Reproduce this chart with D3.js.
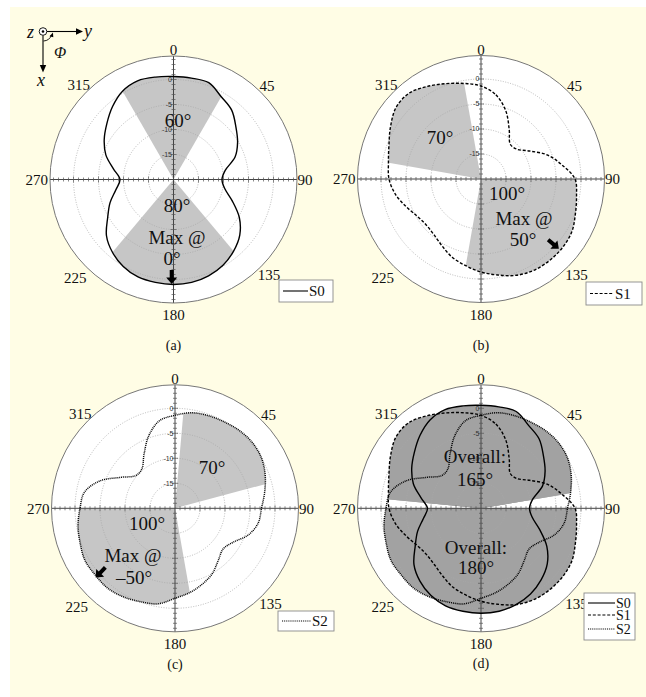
<!DOCTYPE html>
<html>
<head>
<meta charset="utf-8">
<script src="https://cdn.jsdelivr.net/npm/d3@7"></script>
<style>
html, body { margin: 0; padding: 0; background: #fff; }
svg { display: block; }
</style>
</head>
<body>
<svg id="fig" width="646" height="697"></svg>
<script>
// ---- measured radiation patterns (dB), azimuth in degrees ----
const azimuth = [0,10,20,30,40,50,60,70,80,90,100,110,120,130,140,150,160,170,
                 180,190,200,210,220,230,240,250,260,270,280,290,300,310,320,330,340,350];
const s0 = [0.6,0.6,0.6,-0.9,-1.9,-3.7,-5.2,-6.9,-9.5,-10.3,-9.6,-7.5,-4.8,-2.7,-1.3,-0.2,0.5,0.9,
            1.0,0.9,0.75,0.1,-1.0,-2.5,-4.8,-6.5,-8.3,-9.3,-7.8,-5.6,-4.0,-2.6,-1.0,0.4,1.0,0.8];
const s1 = [-1.4,-2.9,-5.5,-8.7,-10.9,-10.7,-8.8,-5.9,-3.6,-1.2,-0.6,0.1,1.0,1.3,1.3,1.1,0.5,-0.5,
            -1.4,-2.4,-3.3,-4.5,-5.4,-5.7,-5.2,-4.0,-2.6,-1.6,-1.2,-0.4,0.9,2.2,2.4,1.4,0.3,-0.6];
const s2 = [-1.4,-0.6,-0.3,-0.1,0.2,0.3,0.0,-0.8,-1.8,-2.7,-3.1,-4.4,-6.5,-7.4,-6.5,-5.0,-3.9,-2.9,
            -2.0,-0.6,-0.1,0.5,0.9,0.8,0.8,0.2,-0.3,-1.0,-1.6,-4.0,-7.6,-9.8,-9.7,-7.6,-4.6,-2.2];

const seriesNames = ["S0", "S1", "S2"];
const angleTicks = [0, 45, 90, 135, 180, 225, 270, 315];
const ringTicks = [0, -5, -10, -15];
const dbMin = -20;

// beams: [centre azimuth, beamwidth]
const beamsA = [[0, 60], [180, 80]];
const beamsB = [[315, 70], [140, 100]];
const beamsC = [[40, 70], [220, 100]];
const beamsD = [[358, 165], [180, 180]];
const maxDirA = "0°";
const maxDirB = "50°";
const maxDirC = "–50°";

// ---- drawing ----
const svg = d3.select("#fig");
const serif = "'Liberation Serif', 'Times New Roman', serif";
const sans = "'Liberation Sans', Arial, sans-serif";

svg.append("rect").attr("width", 646).attr("height", 697).attr("fill", "#fff");
svg.append("rect").attr("x", 10).attr("y", 7).attr("width", 636).attr("height", 690).attr("fill", "#fffde5");

const frameR = 123.5;
const rScale = d3.scaleLinear().domain([dbMin, 0]).range([0, 100]);
const rad = d => d * Math.PI / 180;

// extra spacing of each azimuth label outside the frame
const labelGap = { 0: 1, 45: 0, 90: 0.5, 135: 0, 180: 7, 225: 4, 270: 2, 315: -1 };

const seriesData = { S0: s0, S1: s1, S2: s2 };
const lineStyle = {
  S0: { dash: null, width: 1.4 },
  S1: { dash: "3,1.8", width: 1.4 },
  S2: { dash: "1,0.9", width: 1.5 }
};

const radialLine = d3.lineRadial()
  .angle(d => rad(d[0]))
  .radius(d => rScale(d[1]))
  .curve(d3.curveCatmullRomClosed.alpha(0.5));

const sectorArc = d3.arc().innerRadius(0).outerRadius(frameR + 2);

function points(name) {
  return azimuth.map((a, i) => [a, seriesData[name][i]]);
}

let clipId = 0;

function blockArrow(g, x, y, rotDeg) {
  g.append("path")
    .attr("d", "M-7,-2 L0.5,-2 L0.5,-5.5 L7,0 L0.5,5.5 L0.5,2 L-7,2 Z")
    .attr("transform", `translate(${x},${y}) rotate(${rotDeg})`)
    .attr("fill", "#000");
}

function drawPanel(p) {
  const g = svg.append("g").attr("transform", `translate(${p.cx},${p.cy})`);

  // plot disc
  g.append("circle").attr("r", frameR).attr("fill", "#fff");

  // shaded beam sectors, bounded by the pattern(s)
  p.beams.forEach(([c, w]) => {
    const id = "sec" + (clipId++);
    g.append("clipPath").attr("id", id)
      .append("path")
      .attr("d", sectorArc({ startAngle: rad(c - w / 2), endAngle: rad(c + w / 2) }));
    p.series.forEach(name => {
      g.append("path")
        .attr("d", radialLine(points(name)))
        .attr("fill", p.fill)
        .attr("clip-path", `url(#${id})`);
    });
  });

  // dotted dB rings
  g.selectAll(null).data(ringTicks).enter().append("circle")
    .attr("r", d => rScale(d))
    .attr("fill", "none")
    .attr("stroke", "#a8a8a8")
    .attr("stroke-width", 0.8)
    .attr("stroke-dasharray", "1,1.5");

  // axes through the centre with ticks
  g.append("line").attr("x1", -frameR).attr("x2", frameR).attr("stroke", "#444").attr("stroke-width", 1);
  g.append("line").attr("y1", -frameR).attr("y2", frameR).attr("stroke", "#444").attr("stroke-width", 1);
  const tickVals = d3.range(dbMin + 1, 5, 1);
  [0, 90, 180, 270].forEach(dir => {
    const a = rad(dir);
    const ux = Math.sin(a), uy = -Math.cos(a);
    tickVals.forEach(v => {
      const r = rScale(v);
      const len = (v % 5 === 0) ? 3 : 2;
      const px = ux * r, py = uy * r;
      g.append("line")
        .attr("x1", px - uy * len).attr("y1", py + ux * len)
        .attr("x2", px + uy * len).attr("y2", py - ux * len)
        .attr("stroke", "#555").attr("stroke-width", 0.7);
    });
  });

  // frame circle
  g.append("circle").attr("r", frameR).attr("fill", "none").attr("stroke", "#777").attr("stroke-width", 1);

  // pattern outlines
  p.series.forEach(name => {
    g.append("path")
      .attr("d", radialLine(points(name)))
      .attr("fill", "none")
      .attr("stroke", "#000")
      .attr("stroke-width", lineStyle[name].width)
      .attr("stroke-dasharray", lineStyle[name].dash);
  });

  // dB labels on the upper axis
  g.selectAll(null).data(ringTicks).enter().append("text")
    .attr("x", -1.5)
    .attr("y", d => -rScale(d))
    .attr("dy", "0.35em")
    .attr("text-anchor", "end")
    .attr("font-family", sans)
    .attr("font-size", 7)
    .attr("fill", "#333")
    .text(d => d);

  // azimuth labels
  angleTicks.forEach(t => {
    const a = rad(t);
    const s = Math.sin(a), c = Math.cos(a);
    const txt = String(t);
    const w = 7.5 * txt.length, h = 10;
    const r = frameR + labelGap[t] + Math.abs(s) * w / 2 + Math.abs(c) * h / 2;
    g.append("text")
      .attr("x", s * r)
      .attr("y", -c * r)
      .attr("dy", "0.35em")
      .attr("text-anchor", "middle")
      .attr("font-family", serif)
      .attr("font-size", 15)
      .attr("fill", "#111")
      .text(txt);
  });

  // annotations
  p.notes.forEach(n => {
    svg.append("text")
      .attr("x", n.x).attr("y", n.y)
      .attr("dy", "0.35em")
      .attr("text-anchor", "middle")
      .attr("font-family", serif)
      .attr("font-size", 19)
      .attr("fill", "#111")
      .text(n.text);
  });
  if (p.arrow) blockArrow(svg, p.arrow.x, p.arrow.y, p.arrow.rot);

  // legend
  const L = p.legend;
  const lg = svg.append("g");
  const lid = "leg" + (clipId++);
  lg.append("clipPath").attr("id", lid).append("rect")
    .attr("x", L.x).attr("y", L.y).attr("width", L.w).attr("height", L.h);
  lg.append("rect")
    .attr("x", L.x).attr("y", L.y).attr("width", L.w).attr("height", L.h)
    .attr("fill", "#fff").attr("stroke", "#8a8a8a").attr("stroke-width", 0.9);
  const inner = lg.append("g").attr("clip-path", `url(#${lid})`);
  p.series.forEach((name, i) => {
    const y = L.y + L.rowY[i];
    inner.append("line")
      .attr("x1", L.x + 4).attr("x2", L.x + L.lineLen)
      .attr("y1", y).attr("y2", y)
      .attr("stroke", "#000")
      .attr("stroke-width", 1.1)
      .attr("stroke-dasharray", lineStyle[name].dash);
    inner.append("text")
      .attr("x", L.x + L.lineLen + 1).attr("y", y)
      .attr("dy", "0.35em")
      .attr("font-family", serif)
      .attr("font-size", L.fs)
      .attr("fill", "#111")
      .text(name);
  });

  // caption
  svg.append("text")
    .attr("x", p.cx).attr("y", p.capY)
    .attr("dy", "0.35em")
    .attr("text-anchor", "middle")
    .attr("font-family", serif)
    .attr("font-size", 14)
    .attr("fill", "#111")
    .text(p.caption);
}

const lightFill = "#c6c6c6";
const darkFill = "#a2a2a2";

drawPanel({
  cx: 173.5, cy: 179.5, series: ["S0"], beams: beamsA, fill: lightFill,
  notes: [
    { text: beamsA[0][1] + "°", x: 178, y: 120 },
    { text: beamsA[1][1] + "°", x: 177, y: 205 },
    { text: "Max @", x: 177, y: 237 },
    { text: maxDirA, x: 172, y: 258 }
  ],
  arrow: { x: 171.7, y: 277, rot: 90 },
  legend: { x: 279, y: 280, w: 54, h: 22, rowY: [11], lineLen: 29, fs: 15 },
  caption: "(a)", capY: 345
});

drawPanel({
  cx: 481, cy: 179, series: ["S1"], beams: beamsB, fill: lightFill,
  notes: [
    { text: beamsB[0][1] + "°", x: 440, y: 137 },
    { text: beamsB[1][1] + "°", x: 507, y: 193 },
    { text: "Max @", x: 524, y: 218 },
    { text: maxDirB, x: 523, y: 239 }
  ],
  arrow: { x: 553.5, y: 244.3, rot: 40 },
  legend: { x: 586, y: 282, w: 56, h: 23, rowY: [11.5], lineLen: 28, fs: 15 },
  caption: "(b)", capY: 345
});

drawPanel({
  cx: 175, cy: 508.3, series: ["S2"], beams: beamsC, fill: lightFill,
  notes: [
    { text: beamsC[0][1] + "°", x: 212, y: 467 },
    { text: beamsC[1][1] + "°", x: 147, y: 523 },
    { text: "Max @", x: 133, y: 555 },
    { text: maxDirC, x: 134, y: 577 }
  ],
  arrow: { x: 100.5, y: 572.5, rot: 134 },
  legend: { x: 278, y: 611, w: 56, h: 20, rowY: [10], lineLen: 33, fs: 15 },
  caption: "(c)", capY: 664
});

drawPanel({
  cx: 481, cy: 508.3, series: ["S0", "S1", "S2"], beams: beamsD, fill: darkFill,
  notes: [
    { text: "Overall:", x: 475, y: 456 },
    { text: beamsD[0][1] + "°", x: 475, y: 479 },
    { text: "Overall:", x: 476, y: 547 },
    { text: beamsD[1][1] + "°", x: 476, y: 567 }
  ],
  arrow: null,
  legend: { x: 584, y: 593, w: 51, h: 47, rowY: [10, 22, 36], lineLen: 31, fs: 14 },
  caption: "(d)", capY: 663
});

// coordinate system sketch
const cs = svg.append("g");
const ital = t => cs.append("text").attr("font-family", serif).attr("font-style", "italic").attr("fill", "#111");
ital().attr("x", 27).attr("y", 38).attr("font-size", 18).text("z");
ital().attr("x", 84).attr("y", 37).attr("font-size", 18).text("y");
ital().attr("x", 37).attr("y", 86).attr("font-size", 18).text("x");
ital().attr("x", 54).attr("y", 58).attr("font-size", 16).text("Φ");
cs.append("circle").attr("cx", 43).attr("cy", 31.5).attr("r", 3.8).attr("fill", "#fff").attr("stroke", "#000").attr("stroke-width", 0.9);
cs.append("circle").attr("cx", 43).attr("cy", 31.5).attr("r", 1.3).attr("fill", "#000");
cs.append("line").attr("x1", 47).attr("y1", 31.5).attr("x2", 77).attr("y2", 31.5).attr("stroke", "#000").attr("stroke-width", 1.1);
cs.append("path").attr("d", "M76,28.3 L83,31.5 L76,34.7 Z").attr("fill", "#000");
cs.append("line").attr("x1", 43).attr("y1", 35.5).attr("x2", 43).attr("y2", 66).attr("stroke", "#000").attr("stroke-width", 1.1);
cs.append("path").attr("d", "M39.8,65 L43,72.5 L46.2,65 Z").attr("fill", "#000");
cs.append("path").attr("d", "M43.5,41 A9,9 0 0 0 51.5,35").attr("fill", "none").attr("stroke", "#000").attr("stroke-width", 0.9);
cs.append("path").attr("d", "M49.5,36.3 L53,32.5 L53.3,37.3 Z").attr("fill", "#000");
</script>
</body>
</html>
